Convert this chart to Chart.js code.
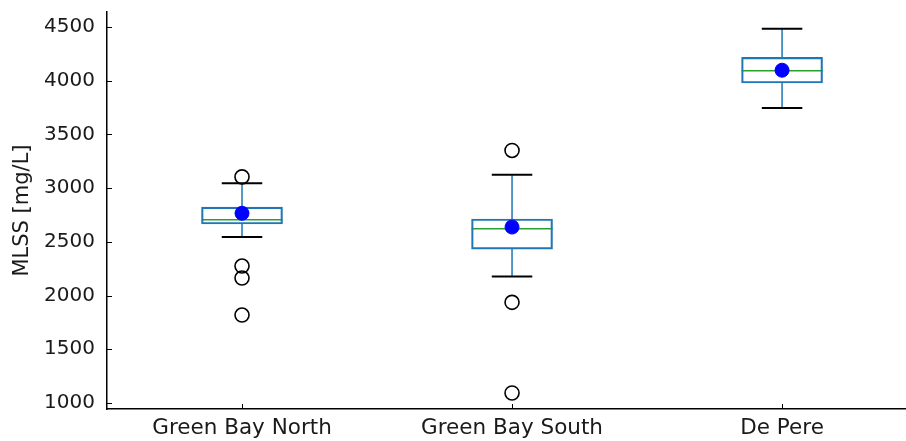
<!DOCTYPE html>
<html>
<head>
<meta charset="utf-8">
<script src="https://cdn.jsdelivr.net/npm/chart.js@4/dist/chart.umd.min.js"></script>
<style>
  html, body { margin: 0; padding: 0; background: #fff; overflow: hidden; }
  #wrap { width: 906px; height: 441px; }
</style>
</head>
<body>
<div id="wrap"><canvas id="c" width="906" height="441"></canvas></div>
<script>
// MLSS box statistics per plant (mg/L)
const categories = ['Green Bay North', 'Green Bay South', 'De Pere'];
const q1 = [2666, 2433, 3979];
const q3 = [2824, 2713, 4217];
const medians = [2706, 2622, 4092];
const means = [2766, 2638, 4098];
const whiskerLow = [2545, 2178, 3746];
const whiskerHigh = [3045, 3125, 4484];
const outliers = [
  [3105, 2275, 2163, 1819],
  [3351, 1937, 1093],
  []
];
const yTicks = [1000, 1500, 2000, 2500, 3000, 3500, 4000, 4500];

const FONT = 'DejaVu Sans';
const BOX_BLUE = '#1f77b4';
const MEDIAN_GREEN = '#2ca02c';

const boxData = categories.map((c, i) => ({ x: i + 1, y: [q1[i], q3[i]] }));
const meanData = categories.map((c, i) => ({ x: i + 1, y: means[i] }));
const outlierData = [];
outliers.forEach((list, i) => list.forEach(v => outlierData.push({ x: i + 1, y: v })));

// whiskers, caps and medians, placed through the chart's scales
const boxParts = {
  id: 'boxParts',
  beforeDatasetsDraw(chart) {
    const { ctx, scales: { x, y } } = chart;
    const meta = chart.getDatasetMeta(2);
    ctx.save();
    categories.forEach((c, i) => {
      const cx = x.getPixelForValue(i + 1);
      const bar = meta.data[i];
      const half = bar ? bar.width / 2 : 40;
      // whiskers
      ctx.strokeStyle = BOX_BLUE;
      ctx.lineWidth = 1.5;
      ctx.beginPath();
      ctx.moveTo(cx, y.getPixelForValue(whiskerLow[i]));
      ctx.lineTo(cx, y.getPixelForValue(q1[i]));
      ctx.moveTo(cx, y.getPixelForValue(q3[i]));
      ctx.lineTo(cx, y.getPixelForValue(whiskerHigh[i]));
      ctx.stroke();
      // caps
      ctx.strokeStyle = '#000';
      ctx.lineWidth = 2;
      ctx.beginPath();
      [whiskerLow[i], whiskerHigh[i]].forEach(v => {
        const py = y.getPixelForValue(v);
        ctx.moveTo(cx - half / 2, py);
        ctx.lineTo(cx + half / 2, py);
      });
      ctx.stroke();
      // median
      ctx.strokeStyle = MEDIAN_GREEN;
      ctx.lineWidth = 1.5;
      ctx.beginPath();
      const my = y.getPixelForValue(medians[i]);
      ctx.moveTo(cx - half, my);
      ctx.lineTo(cx + half, my);
      ctx.stroke();
    });
    ctx.restore();
  },
  afterDraw(chart) {
    // inward tick marks
    const { ctx, chartArea, scales: { x, y } } = chart;
    ctx.save();
    ctx.strokeStyle = '#000';
    ctx.lineWidth = 1;
    ctx.beginPath();
    y.ticks.forEach(t => {
      const py = Math.round(y.getPixelForValue(t.value)) + 0.5;
      ctx.moveTo(chartArea.left, py);
      ctx.lineTo(chartArea.left + 5, py);
    });
    x.ticks.forEach(t => {
      const px = Math.round(x.getPixelForValue(t.value)) + 0.5;
      ctx.moveTo(px, chartArea.bottom);
      ctx.lineTo(px, chartArea.bottom - 5);
    });
    ctx.stroke();
    ctx.restore();
  }
};

new Chart(document.getElementById('c'), {
  type: 'bar',
  data: {
    datasets: [
      {
        type: 'scatter',
        label: 'mean',
        data: meanData,
        pointRadius: 7,
        pointHoverRadius: 7,
        backgroundColor: '#0000ff',
        borderColor: '#0000ff',
        borderWidth: 1,
        order: 0
      },
      {
        type: 'scatter',
        label: 'outliers',
        data: outlierData,
        pointRadius: 7,
        pointHoverRadius: 7,
        backgroundColor: 'rgba(0,0,0,0)',
        borderColor: '#000',
        borderWidth: 1.6,
        order: 1
      },
      {
        type: 'bar',
        label: 'IQR',
        data: boxData,
        backgroundColor: 'rgba(0,0,0,0)',
        borderColor: BOX_BLUE,
        borderWidth: 1.5,
        borderSkipped: false,
        barThickness: 81,
        order: 3
      }
    ]
  },
  options: {
    responsive: false,
    animation: false,
    devicePixelRatio: 1,
    layout: { autoPadding: false, padding: { left: 0, right: 0, top: 12, bottom: 0 } },
    plugins: { legend: { display: false }, tooltip: { enabled: false } },
    scales: {
      x: {
        type: 'linear',
        offset: false,
        min: 0.5,
        max: 3.459,
        grid: { display: false, drawTicks: false, offset: false },
        border: { display: true, color: '#000', width: 1.5 },
        afterBuildTicks(scale) {
          scale.ticks = categories.map((c, i) => ({ value: i + 1 }));
        },
        afterFit(scale) {
          scale.height = 32;
          scale.paddingLeft = 0;
          scale.paddingRight = 0;
        },
        ticks: {
          autoSkip: false,
          maxRotation: 0,
          padding: 7,
          color: '#1a1a1a',
          font: { family: FONT, size: 21.5 },
          callback: (v) => categories[Math.round(v) - 1] || ''
        }
      },
      y: {
        type: 'linear',
        min: 944,
        max: 4640,
        grid: { display: false, drawTicks: false },
        border: { display: true, color: '#000', width: 1.5 },
        afterBuildTicks(scale) {
          scale.ticks = yTicks.map(v => ({ value: v }));
        },
        afterFit(scale) {
          scale.width = 107;
          scale.paddingTop = 0;
          scale.paddingBottom = 0;
        },
        ticks: {
          padding: 12,
          color: '#1a1a1a',
          font: { family: FONT, size: 20 },
          callback: (v) => String(v)
        },
        title: {
          display: true,
          text: 'MLSS [mg/L]',
          color: '#1a1a1a',
          font: { family: FONT, size: 21 },
          padding: { top: 10, bottom: 0 }
        }
      }
    }
  },
  plugins: [boxParts]
});
</script>
</body>
</html>
